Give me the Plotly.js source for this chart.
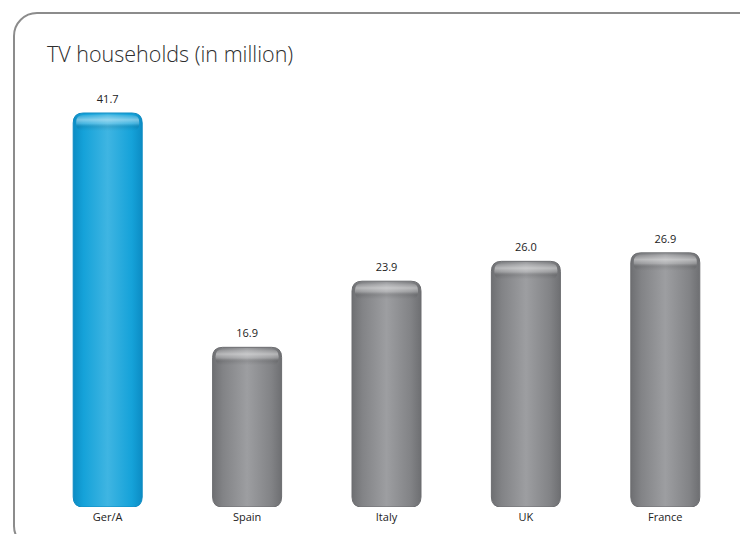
<!DOCTYPE html>
<html><head><meta charset="utf-8">
<script src="https://cdn.plot.ly/plotly-3.0.1.min.js"></script>
<style>
html,body{margin:0;padding:0;background:#fff;overflow:hidden;width:740px;height:534px}
#panel{position:absolute;left:13px;top:12px;width:800px;height:538px;border:2px solid #8c8c8c;border-radius:24px;box-sizing:border-box}
#chart{position:absolute;left:0;top:0;width:740px;height:534px}
</style></head>
<body><div id="panel"></div><div id="chart"></div>
<script>
const categories = ['Ger/A', 'Spain', 'Italy', 'UK', 'France'];
const values = [41.7, 16.9, 23.9, 26.0, 26.9];
const valueLabels = ['41.7', '16.9', '23.9', '26.0', '26.9'];
const barKinds = ['blue', 'gray', 'gray', 'gray', 'gray'];

const colorOf = {blue: '#18a2da', gray: '#8b8c8f'};
const edgeOf = {blue: '#0d8ac2', gray: '#6c6d70'};

const data = [{
  type: 'bar',
  x: categories,
  y: values,
  text: valueLabels,
  texttemplate: '%{text}',
  textposition: 'outside',
  textfont: {family: 'Open Sans, sans-serif', size: 11, color: '#222'},
  cliponaxis: false,
  width: 0.495,
  marker: {color: barKinds.map(k => colorOf[k]), line: {width: 1, color: barKinds.map(k => edgeOf[k])}},
  hoverinfo: 'none'
}];

const layout = {
  width: 740, height: 534,
  margin: {l: 38, r: 5, t: 60, b: 27},
  paper_bgcolor: 'rgba(0,0,0,0)',
  plot_bgcolor: 'rgba(0,0,0,0)',
  showlegend: false,
  title: {text: 'TV households (in million)', x: 47/740, xref: 'container', xanchor: 'left',
          y: 1 - 54/534, yref: 'container', yanchor: 'middle',
          font: {family: 'Open Sans, sans-serif', size: 21.5, weight: 300, color: '#2e2e2e'}},
  xaxis: {type: 'category', range: [-0.5, 4.5], showgrid: false, zeroline: false, showline: false,
          ticks: '', ticklabelstandoff: 2, tickfont: {family: 'Open Sans, sans-serif', size: 11, color: '#222'}},
  yaxis: {range: [0, 47.31], visible: false, showgrid: false, zeroline: false}
};

Plotly.newPlot('chart', data, layout, {staticPlot: true}).then(gd => {
  const ns = 'http://www.w3.org/2000/svg';
  const svg = gd.querySelector('svg.main-svg');
  let defs = svg.querySelector('defs');
  if (!defs) { defs = document.createElementNS(ns, 'defs'); svg.insertBefore(defs, svg.firstChild); }
  function mkGrad(id, x1, y1, x2, y2, stops, units) {
    const g = document.createElementNS(ns, 'linearGradient');
    g.setAttribute('id', id);
    g.setAttribute('x1', x1); g.setAttribute('y1', y1); g.setAttribute('x2', x2); g.setAttribute('y2', y2);
    if (units) g.setAttribute('gradientUnits', units);
    stops.forEach(s => {
      const st = document.createElementNS(ns, 'stop');
      st.setAttribute('offset', s[0]); st.setAttribute('stop-color', s[1]); st.setAttribute('stop-opacity', s[2] == null ? 1 : s[2]);
      g.appendChild(st);
    });
    defs.appendChild(g);
  }
  mkGrad('g_gray', 0, 0, 1, 0, [[0, '#6e6f72'], [0.15, '#828386'], [0.5, '#9d9ea1'], [0.85, '#828386'], [1, '#6e6f72']]);
  mkGrad('g_blue', 0, 0, 1, 0, [[0, '#0c8cc4'], [0.15, '#15a2d9'], [0.5, '#3fb5e2'], [0.85, '#15a2d9'], [1, '#0c8cc4']]);
  function rr(x, y, w, h, r) {
    return 'M' + (x + r) + ',' + y + 'H' + (x + w - r) + 'Q' + (x + w) + ',' + y + ' ' + (x + w) + ',' + (y + r) +
      'V' + (y + h - r) + 'Q' + (x + w) + ',' + (y + h) + ' ' + (x + w - r) + ',' + (y + h) +
      'H' + (x + r) + 'Q' + x + ',' + (y + h) + ' ' + x + ',' + (y + h - r) +
      'V' + (y + r) + 'Q' + x + ',' + y + ' ' + (x + r) + ',' + y + 'Z';
  }
  const paths = gd.querySelectorAll('.barlayer .point path');
  paths.forEach((p, i) => {
    const b = p.getBBox();
    p.setAttribute('d', rr(b.x, b.y, b.width, b.height, 10));
    p.style.fill = 'url(#g_' + barKinds[i] + ')';
    p.style.stroke = edgeOf[barKinds[i]];
    p.style.strokeWidth = '1px';
    const gid = 'hl' + i;
    mkGrad(gid, 0, b.y + 2, 0, b.y + 18, [[0, '#ffffff', 0.1], [0.3, '#ffffff', 0.45], [0.55, '#ffffff', 0.2], [0.75, '#000000', 0.08], [1, '#000000', 0]], 'userSpaceOnUse');
    const h = document.createElementNS(ns, 'path');
    h.setAttribute('d', rr(b.x + 3, b.y + 2, b.width - 6, 16, 7));
    h.style.fill = 'url(#' + gid + ')';
    h.style.stroke = 'none';
    p.parentNode.appendChild(h);
  });
  gd.querySelectorAll('.barlayer .point text').forEach(t => {
    const tr = t.getAttribute('transform') || '';
    t.setAttribute('transform', 'translate(0,-4) ' + tr);
  });
});
</script>
</body></html>
